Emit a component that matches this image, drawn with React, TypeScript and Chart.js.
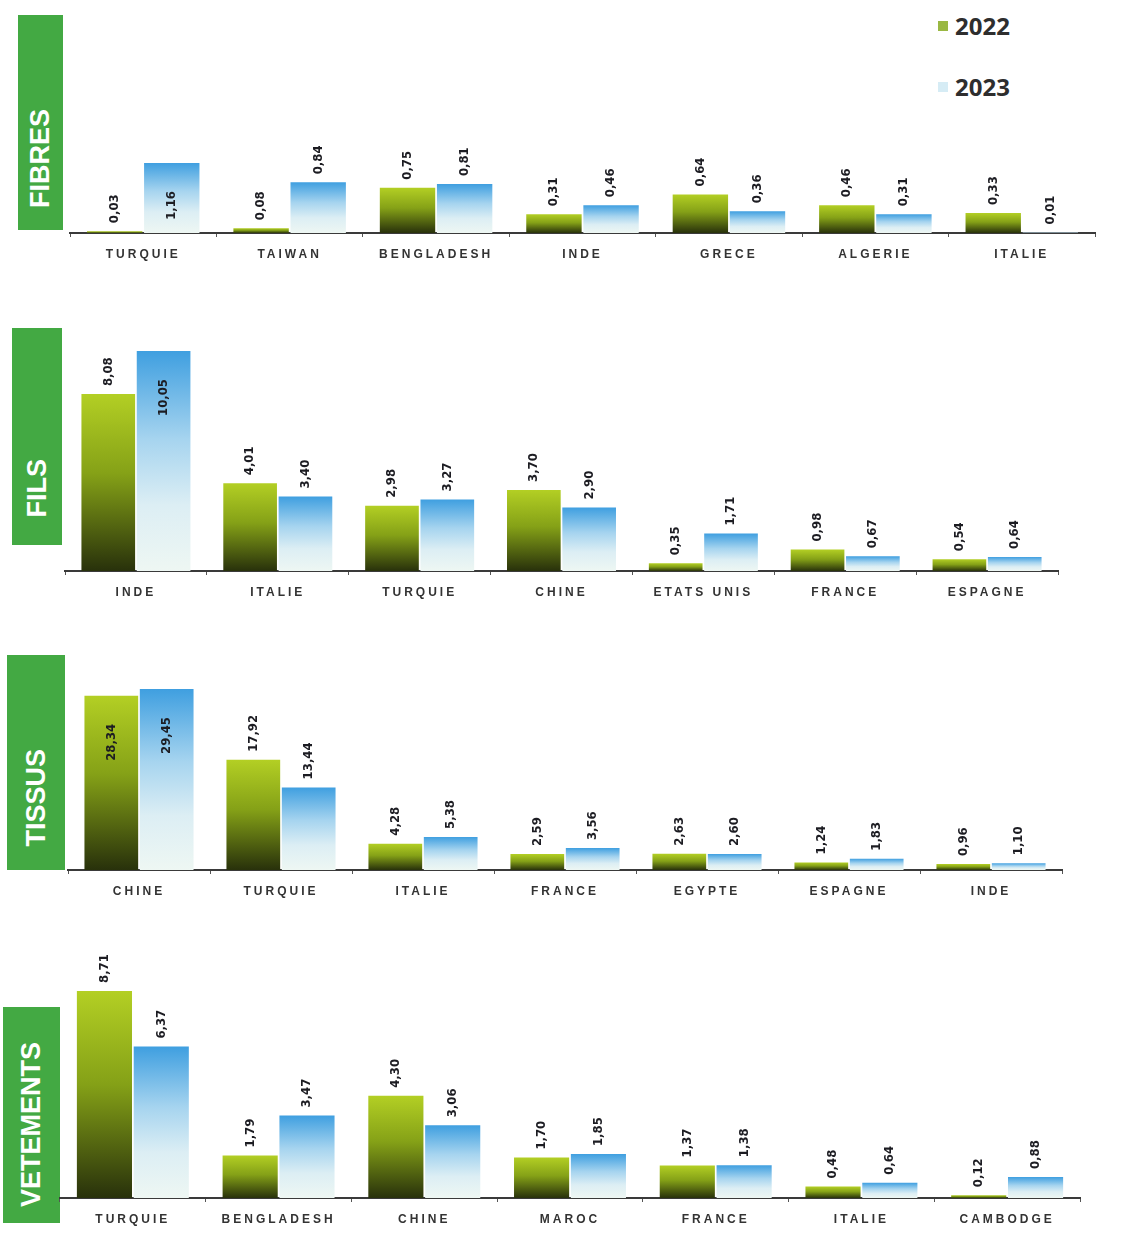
import React, { useEffect, useRef } from 'react';
import { Chart, registerables } from 'chart.js';

Chart.register(...registerables);

// ---------- DATA ----------
const seriesLabels = ['2022', '2023'];

const fibresCategories = ['TURQUIE', 'TAIWAN', 'BENGLADESH', 'INDE', 'GRECE', 'ALGERIE', 'ITALIE'];
const fibres2022 = [0.03, 0.08, 0.75, 0.31, 0.64, 0.46, 0.33];
const fibres2023 = [1.16, 0.84, 0.81, 0.46, 0.36, 0.31, 0.01];

const filsCategories = ['INDE', 'ITALIE', 'TURQUIE', 'CHINE', 'ETATS UNIS', 'FRANCE', 'ESPAGNE'];
const fils2022 = [8.08, 4.01, 2.98, 3.7, 0.35, 0.98, 0.54];
const fils2023 = [10.05, 3.4, 3.27, 2.9, 1.71, 0.67, 0.64];

const tissusCategories = ['CHINE', 'TURQUIE', 'ITALIE', 'FRANCE', 'EGYPTE', 'ESPAGNE', 'INDE'];
const tissus2022 = [28.34, 17.92, 4.28, 2.59, 2.63, 1.24, 0.96];
const tissus2023 = [29.45, 13.44, 5.38, 3.56, 2.6, 1.83, 1.1];

const vetementsCategories = ['TURQUIE', 'BENGLADESH', 'CHINE', 'MAROC', 'FRANCE', 'ITALIE', 'CAMBODGE'];
const vetements2022 = [8.71, 1.79, 4.3, 1.7, 1.37, 0.48, 0.12];
const vetements2023 = [6.37, 3.47, 3.06, 1.85, 1.38, 0.64, 0.88];

const panelTitles = ['FIBRES', 'FILS', 'TISSUS', 'VETEMENTS'];

// ---------- LAYOUT ----------
const PAGE_W = 1129;
const AXIS_H = 36;

type Layout = {
  top: number; base: number; maxPx: number; left: number; right: number;
  box: { left: number; top: number; width: number; height: number; padBottom: number };
};

const layouts: Layout[] = [
  { top: 135, base: 233, maxPx: 70, left: 70, right: 1095, box: { left: 18, top: 15, width: 45, height: 215, padBottom: 22 } },
  { top: 335, base: 571, maxPx: 220, left: 65, right: 1058, box: { left: 12, top: 328, width: 50, height: 217, padBottom: 28 } },
  { top: 670, base: 870, maxPx: 181, left: 68, right: 1062, box: { left: 7, top: 655, width: 58, height: 215, padBottom: 23 } },
  { top: 940, base: 1198, maxPx: 207, left: 60, right: 1080, box: { left: 3, top: 1007, width: 57, height: 216, padBottom: 16 } },
];

const fmt = (v: number) => v.toFixed(2).replace('.', ',');

const grad2022 = (c: any) => {
  if (c.type !== 'data') return '#8db33a';
  const chart = c.chart;
  const ys = chart.scales.y;
  if (!ys) return '#8db33a';
  const top = ys.getPixelForValue(c.raw);
  const bottom = ys.getPixelForValue(0);
  if (!isFinite(top) || !isFinite(bottom) || Math.abs(bottom - top) < 1) return '#6f8a14';
  const g = chart.ctx.createLinearGradient(0, top, 0, bottom);
  g.addColorStop(0, '#b3cf24');
  g.addColorStop(0.45, '#85a117');
  g.addColorStop(1, '#28310b');
  return g;
};

const grad2023 = (c: any) => {
  if (c.type !== 'data') return '#d6ecf5';
  const chart = c.chart;
  const ys = chart.scales.y;
  if (!ys) return '#d6ecf5';
  const top = ys.getPixelForValue(c.raw);
  const bottom = ys.getPixelForValue(0);
  if (!isFinite(top) || !isFinite(bottom) || Math.abs(bottom - top) < 1) return '#bfe0ef';
  const g = chart.ctx.createLinearGradient(0, top, 0, bottom);
  g.addColorStop(0, '#3f9fe0');
  g.addColorStop(0.4, '#a6d4ef');
  g.addColorStop(0.7, '#dceef4');
  g.addColorStop(1, '#eef7f3');
  return g;
};

const spacingPlugin = {
  id: 'tickSpacing',
  beforeDraw(chart: any) {
    chart.ctx.letterSpacing = '3px';
  },
  beforeDatasetsDraw(chart: any) {
    chart.ctx.letterSpacing = '0px';
  },
};

const valueLabelPlugin = {
  id: 'valueLabels',
  afterDatasetsDraw(chart: any) {
    const ctx = chart.ctx;
    ctx.save();
    ctx.letterSpacing = '0px';
    ctx.font = 'bold 13px "DejaVu Sans Condensed", "DejaVu Sans", Arial, sans-serif';
    ctx.fillStyle = '#1c1c22';
    ctx.textAlign = 'left';
    ctx.textBaseline = 'middle';
    chart.data.datasets.forEach((ds: any, di: number) => {
      const meta = chart.getDatasetMeta(di);
      meta.data.forEach((bar: any, i: number) => {
        const text = fmt(ds.data[i]);
        const w = ctx.measureText(text).width;
        const gap = 8;
        let originY = bar.y - gap;
        if (originY - w < chart.chartArea.top) {
          originY = bar.y + 28 + w;
        }
        ctx.save();
        ctx.translate(bar.x, originY);
        ctx.rotate(-Math.PI / 2);
        ctx.fillText(text, 0, 0);
        ctx.restore();
      });
    });
    ctx.restore();
  },
};

type PanelProps = { title: string; categories: string[]; a: number[]; b: number[]; layout: Layout };

function Panel({ title, categories, a, b, layout }: PanelProps) {
  const ref = useRef<HTMLCanvasElement | null>(null);
  const height = layout.base - layout.top + AXIS_H;
  useEffect(() => {
    if (!ref.current) return;
    const maxVal = Math.max(...a, ...b);
    const yMax = (maxVal * (layout.base - layout.top)) / layout.maxPx;
    const chart = new Chart(ref.current, {
      type: 'bar',
      data: {
        labels: categories,
        datasets: [
          { label: seriesLabels[0], data: a, backgroundColor: grad2022, borderWidth: 0, categoryPercentage: 0.78, barPercentage: 0.97 },
          { label: seriesLabels[1], data: b, backgroundColor: grad2023, borderWidth: 0, categoryPercentage: 0.78, barPercentage: 0.97 },
        ],
      },
      options: {
        animation: false,
        responsive: false,
        layout: { padding: { left: layout.left, right: PAGE_W - layout.right, top: 0, bottom: 0 } },
        plugins: { legend: { display: false }, tooltip: { enabled: false } },
        scales: {
          x: {
            grid: { display: true, drawOnChartArea: false, drawTicks: true, tickLength: 4, color: '#555', lineWidth: 1, offset: true },
            border: { display: true, color: '#3a3a3a', width: 2 },
            ticks: {
              color: '#333333',
              font: { family: '"Liberation Sans", Arial, sans-serif', size: 12, weight: 'bold' },
              padding: 10,
              autoSkip: false,
              maxRotation: 0,
              minRotation: 0,
            },
            afterFit: (s: any) => { s.height = AXIS_H; },
          },
          y: { display: false, min: 0, max: yMax, grid: { display: false } },
        },
      } as any,
      plugins: [spacingPlugin, valueLabelPlugin],
    });
    return () => chart.destroy();
  }, []);

  const bx = layout.box;
  return (
    <>
      <div
        style={{
          position: 'absolute', left: bx.left, top: bx.top, width: bx.width, height: bx.height,
          background: '#43a943', display: 'flex', flexDirection: 'column', alignItems: 'center',
          justifyContent: 'flex-end', paddingBottom: bx.padBottom, boxSizing: 'border-box',
        }}
      >
        <span
          style={{
            writingMode: 'vertical-rl', transform: 'rotate(180deg)', color: '#ffffff',
            font: 'bold 27px "Liberation Sans", Arial, sans-serif', lineHeight: 1,
          }}
        >
          {title}
        </span>
      </div>
      <canvas
        ref={ref}
        width={PAGE_W}
        height={height}
        style={{ position: 'absolute', left: 0, top: layout.top, width: PAGE_W, height }}
      />
    </>
  );
}

export default function App() {
  const legendText: React.CSSProperties = {
    position: 'absolute', left: 955, font: 'bold 24px "Noto Sans", "Open Sans", sans-serif', color: '#2e2e2e', lineHeight: '26px',
  };
  return (
    <div style={{ position: 'absolute', left: 0, top: 0, width: PAGE_W, height: 1234, overflow: 'hidden', background: '#ffffff' }}>
      <Panel title={panelTitles[0]} categories={fibresCategories} a={fibres2022} b={fibres2023} layout={layouts[0]} />
      <Panel title={panelTitles[1]} categories={filsCategories} a={fils2022} b={fils2023} layout={layouts[1]} />
      <Panel title={panelTitles[2]} categories={tissusCategories} a={tissus2022} b={tissus2023} layout={layouts[2]} />
      <Panel title={panelTitles[3]} categories={vetementsCategories} a={vetements2022} b={vetements2023} layout={layouts[3]} />
      <div style={{ position: 'absolute', left: 938, top: 21, width: 10, height: 10, background: '#9ab843' }} />
      <div style={{ ...legendText, top: 13 }}>{seriesLabels[0]}</div>
      <div style={{ position: 'absolute', left: 938, top: 82, width: 10, height: 10, background: '#d6ecf5' }} />
      <div style={{ ...legendText, top: 74 }}>{seriesLabels[1]}</div>
    </div>
  );
}
